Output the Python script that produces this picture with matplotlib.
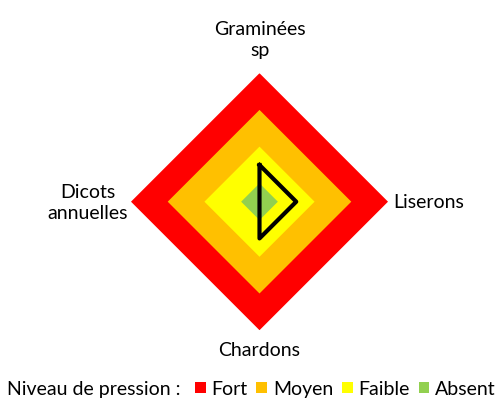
import numpy as np
import matplotlib
matplotlib.use("Agg")
import matplotlib.pyplot as plt
from matplotlib.patches import Patch

categories = ["Graminées\nsp", "Liserons", "Chardons", "Dicots\nannuelles"]
levels = ["Fort", "Moyen", "Faible", "Absent"]
level_values = [3.5, 2.5, 1.5, 0.5]
level_colors = ["#FF0000", "#FFC000", "#FFFF00", "#92D050"]
observed = [1.0, 1.0, 1.0, 0.0]

plt.rcParams['font.family'] = ['Lato', 'DejaVu Sans']

fig = plt.figure(figsize=(5.03, 4.11), dpi=100)
W, H = 503, 411
cx, cy, R = 259.5, 201.7, 128.5
ax = fig.add_axes([(cx - R) / W, (H - cy - R) / H, 2 * R / W, 2 * R / H], projection='polar')
ax.set_theta_offset(np.pi / 2)
ax.set_theta_direction(-1)

n = len(categories)
theta = np.arange(n) * 2 * np.pi / n
theta_c = np.concatenate([theta, theta[:1]])

for lab, v, c in zip(levels, level_values, level_colors):
    r = np.full(n + 1, v)
    ax.fill(theta_c, r, color=c, linewidth=0, label=lab, zorder=2)

obs = np.array(observed + observed[:1])
ax.plot(theta_c, obs, color='black', linewidth=3.0, solid_joinstyle='round', zorder=5)

ax.set_ylim(0, 3.5)
ax.set_xticks([])
ax.set_yticks([])
ax.grid(False)
ax.spines['polar'].set_visible(False)
ax.patch.set_alpha(0)

fs = 14
fig.text(260 / W, 1 - 40 / H, categories[0], ha='center', va='center', fontsize=fs, linespacing=1.25)
fig.text(429 / W, 1 - 202 / H, categories[1], ha='center', va='center', fontsize=fs)
fig.text(259 / W, 1 - 351 / H, categories[2], ha='center', va='center', fontsize=fs)
fig.text(88 / W, 1 - 203 / H, categories[3], ha='center', va='center', fontsize=fs, linespacing=1.25)

fig.text(7 / W, 1 - 389 / H, "Niveau de pression :", ha='left', va='center', fontsize=fs)
handles = [Patch(facecolor=c, edgecolor='none', label=l) for l, c in zip(levels, level_colors)]
fig.legend(handles=handles, loc='center left', bbox_to_anchor=(195 / W, 1 - 389 / H), ncol=4,
           frameon=False, fontsize=fs, handlelength=0.55, handleheight=0.55, handletextpad=0.3,
           columnspacing=0.45, borderpad=0, borderaxespad=0)

fig.savefig("out.png", dpi=100)
